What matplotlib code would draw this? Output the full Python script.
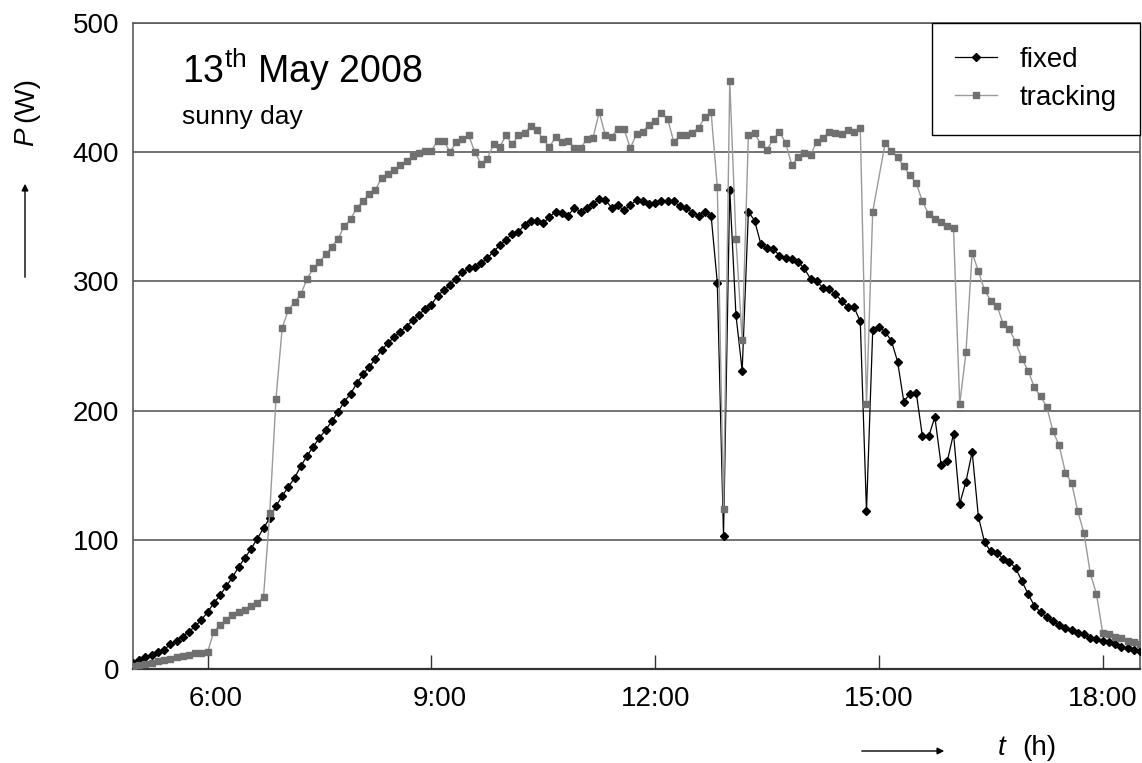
import numpy as np
import matplotlib
matplotlib.use("Agg")
import matplotlib.pyplot as plt
from matplotlib.transforms import ScaledTranslation

plt.rcParams['font.family'] = ['Liberation Sans', 'DejaVu Sans']
plt.rcParams['mathtext.fontset'] = 'custom'
plt.rcParams['mathtext.rm'] = 'Liberation Sans'
plt.rcParams['mathtext.it'] = 'Liberation Sans:italic'

# logger readings, one every 5 minutes from 5:00 to 18:30
start_hour = 5.0
step_min = 5

# P (W), fixed panel, one row per hour
fixed = [
    5, 7, 9, 11, 13, 15, 19, 22, 25, 29, 33, 38,                 # 5:00
    44, 51, 57, 64, 71, 79, 86, 93, 101, 109, 117, 126,          # 6:00
    134, 141, 148, 157, 165, 172, 179, 185, 192, 199, 207, 213,  # 7:00
    221, 228, 234, 240, 247, 252, 257, 261, 265, 270, 274, 279,  # 8:00
    282, 289, 293, 297, 302, 307, 310, 311, 314, 318, 323, 328,  # 9:00
    332, 337, 338, 344, 347, 347, 345, 350, 354, 353, 351, 357,  # 10:00
    354, 357, 360, 364, 363, 357, 359, 355, 359, 363, 362, 360,  # 11:00
    361, 362, 362, 362, 358, 357, 353, 351, 354, 351, 299, 103,  # 12:00
    371, 274, 231, 354, 347, 329, 326, 325, 320, 318, 317, 315,  # 13:00
    310, 302, 300, 295, 294, 290, 285, 280, 280, 269, 122, 262,  # 14:00
    265, 261, 254, 238, 207, 213, 214, 180, 180, 195, 158, 161,  # 15:00
    182, 128, 145, 168, 118, 98, 91, 90, 85, 83, 78, 68,         # 16:00
    58, 49, 44, 40, 37, 34, 32, 30, 28, 27, 24, 23,              # 17:00
    22, 21, 19, 17, 16, 15, 14,                                  # 18:00
]

# P (W), tracking panel (one reading missing at 15:00)
tracking = [
    2, 3, 4, 5, 6, 7, 8, 9, 10, 11, 12, 12,
    13, 29, 34, 38, 42, 44, 46, 49, 51, 56, 121, 209,
    264, 278, 284, 290, 302, 310, 315, 321, 327, 333, 343, 348,
    357, 362, 368, 371, 380, 383, 386, 390, 393, 397, 399, 401,
    401, 409, 409, 400, 408, 410, 413, 400, 391, 395, 406, 404,
    413, 406, 413, 415, 420, 417, 410, 404, 412, 408, 409, 403,
    403, 410, 411, 431, 413, 412, 418, 418, 403, 414, 416, 421,
    424, 430, 426, 408, 413, 413, 415, 419, 427, 431, 373, 124,
    455, 333, 255, 413, 415, 406, 402, 410, 416, 407, 390, 396,
    399, 398, 408, 411, 416, 415, 414, 417, 416, 419, 205, 354,
    np.nan, 407, 401, 396, 389, 382, 376, 362, 352, 348, 346, 343,
    341, 205, 245, 322, 308, 293, 285, 281, 267, 263, 253, 240,
    231, 218, 211, 203, 184, 173, 152, 144, 122, 105, 74, 58,
    28, 27, 25, 24, 22, 21, 19,
]

hour_ticks = [6, 9, 12, 15, 18]
hour_labels = ["6:00", "9:00", "12:00", "15:00", "18:00"]
p_ticks = [0, 100, 200, 300, 400, 500]

fixed = np.array(fixed, dtype=float)
tracking = np.array(tracking, dtype=float)
t = start_hour + np.arange(len(fixed)) * step_min / 60.0
ok = ~np.isnan(tracking)

W, H = 1142, 763
fig = plt.figure(figsize=(W / 100, H / 100), dpi=100)
ax = fig.add_axes([133 / W, 1 - 669 / H, 1007 / W, 646 / H])

ax.plot(t, fixed, color='black', lw=0.9, marker='D', ms=3.6,
        mec='black', mfc='black', label='fixed', zorder=3)
ax.plot(t[ok], tracking[ok], color='#9a9a9a', lw=1.0, marker='s', ms=4.0,
        mec='#707070', mfc='#707070', label='tracking', zorder=4)

ax.set_xlim(5, 18.5)
ax.set_ylim(0, 500)
ax.set_yticks(p_ticks)
ax.set_xticks(hour_ticks)
ax.set_xticklabels(hour_labels)
ax.tick_params(axis='x', direction='in', length=10, width=1, color='#333333',
               labelsize=20, pad=12)
ax.tick_params(axis='y', length=0, labelsize=20, pad=10)
# the short labels sit a little right of their ticks in the original
shift = ScaledTranslation(0.08, 0, fig.dpi_scale_trans)
for lab in ax.get_xticklabels():
    if len(lab.get_text()) == 4:
        lab.set_transform(lab.get_transform() + shift)

ax.set_axisbelow(True)
ax.yaxis.grid(True, color='#5a5a5a', lw=1.2)
for side in ['top', 'right', 'left']:
    ax.spines[side].set_color('#5a5a5a')
    ax.spines[side].set_linewidth(1.2)
ax.spines['bottom'].set_color('#333333')
ax.spines['bottom'].set_linewidth(1.6)

leg = ax.legend(loc='upper right', fontsize=20, frameon=True, fancybox=False,
                framealpha=1, edgecolor='black', borderaxespad=0,
                handlelength=1.5, handletextpad=0.8, labelspacing=0.45,
                borderpad=0.85, numpoints=1)
leg.get_frame().set_linewidth(1.0)

# title texts
fig.text(182 / W, 1 - 83 / H, r"13$^{\mathrm{th}}$ May 2008", fontsize=27,
         va='baseline', ha='left')
fig.text(182 / W, 1 - 124 / H, "sunny day", fontsize=19,
         va='baseline', ha='left')

# axis labels with arrows
fig.text(26 / W, 1 - 137 / H, "P", style='italic', fontsize=20,
         rotation=90, ha='center', va='center')
fig.text(26 / W, 1 - 100 / H, "(W)", fontsize=20,
         rotation=90, ha='center', va='center')
fig.text(998 / W, 1 - 748 / H, "t", style='italic', fontsize=20,
         ha='left', va='center')
fig.text(1022 / W, 1 - 748 / H, "(h)", fontsize=20,
         ha='left', va='center')
fig.add_artist(matplotlib.patches.FancyArrowPatch(
    (25 / W, 1 - 280 / H), (25 / W, 1 - 181 / H), transform=fig.transFigure,
    arrowstyle='-|>', mutation_scale=10, lw=1, color='black'))
fig.add_artist(matplotlib.patches.FancyArrowPatch(
    (859 / W, 1 - 751 / H), (947 / W, 1 - 751 / H), transform=fig.transFigure,
    arrowstyle='-|>', mutation_scale=10, lw=1, color='black'))

fig.savefig('out.png', dpi=100)
